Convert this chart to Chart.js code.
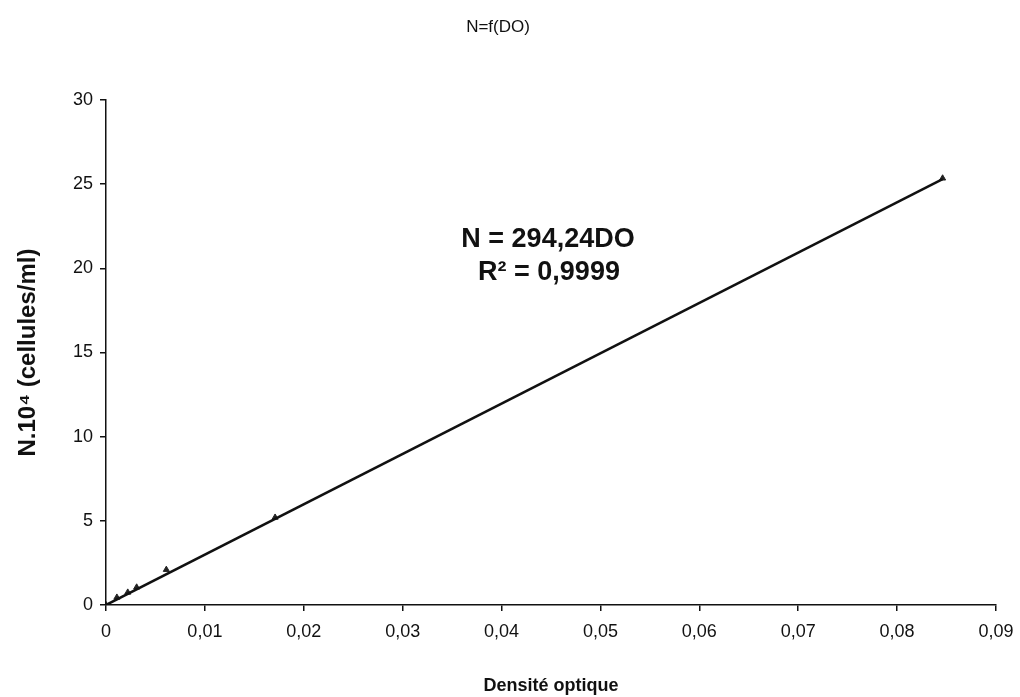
<!DOCTYPE html>
<html>
<head>
<meta charset="utf-8">
<script src="https://cdn.jsdelivr.net/npm/chart.js@4/dist/chart.umd.min.js"></script>
<style>
html,body{margin:0;padding:0;background:#fff;}
#wrap{width:1020px;height:697px;position:relative;}
</style>
</head>
<body>
<div id="wrap"><canvas id="c" width="1020" height="697"></canvas></div>
<script>
// Data
const densite = [0, 0.0011, 0.0022, 0.0031, 0.0061, 0.0171, 0.0846];
const cellules = [0, 0.45, 0.75, 1.05, 2.1, 5.2, 25.35];
// Trend line endpoints as drawn
const trendX = [0, 0.0846];
const trendY = [0, 25.3];
const xTicks = [0, 0.01, 0.02, 0.03, 0.04, 0.05, 0.06, 0.07, 0.08, 0.09];
const yTicks = [0, 5, 10, 15, 20, 25, 30];
const titleText = 'N=f(DO)';
const eqText = 'N = 294,24DO';
const r2Text = 'R² = 0,9999';

const FONT = '"Liberation Sans", Arial, sans-serif';

const textPlugin = {
  id: 'texts',
  afterDraw(chart) {
    const ctx = chart.ctx;
    ctx.save();
    ctx.fillStyle = '#111';
    ctx.textAlign = 'center';
    ctx.textBaseline = 'middle';
    ctx.font = '17px ' + FONT;
    ctx.fillText(titleText, 498, 27);
    ctx.font = 'bold 27px ' + FONT;
    ctx.fillText(eqText, 548, 240);
    ctx.fillText(r2Text, 549, 273);
    ctx.restore();
  }
};

new Chart(document.getElementById('c'), {
  type: 'scatter',
  data: {
    datasets: [
      {
        label: 'Tendance',
        type: 'line',
        data: trendX.map((x, i) => ({x: x, y: trendY[i]})),
        borderColor: '#111',
        borderWidth: 2.5,
        pointRadius: 0,
        fill: false
      },
      {
        label: 'N',
        data: densite.map((x, i) => ({x: x, y: cellules[i]})),
        pointStyle: 'triangle',
        pointRadius: 3.5,
        backgroundColor: '#222',
        borderColor: '#222',
        borderWidth: 1
      }
    ]
  },
  options: {
    responsive: false,
    animation: false,
    layout: {padding: {top: 100, right: 24, left: 0, bottom: 0}},
    plugins: {legend: {display: false}, tooltip: {enabled: false}, title: {display: false}},
    scales: {
      x: {
        type: 'linear',
        min: 0, max: 0.09,
        afterBuildTicks(s) { s.ticks = xTicks.map(v => ({value: v})); },
        afterFit(s) { s.height = 92; s.paddingRight = 0; s.paddingLeft = 0; },
        ticks: {
          color: '#111',
          font: {family: FONT, size: 18},
          padding: 10,
          maxRotation: 0,
          callback: v => String(Math.round(v * 100) / 100).replace('.', ',')
        },
        grid: {drawOnChartArea: false, drawTicks: true, tickLength: 6, color: '#111', lineWidth: 1.5},
        border: {color: '#111', width: 1.5},
        title: {display: true, text: 'Densité optique', color: '#111', font: {family: FONT, size: 18, weight: 'bold'}, padding: {top: 4, bottom: 0}}
      },
      y: {
        type: 'linear',
        min: 0, max: 30,
        afterBuildTicks(s) { s.ticks = yTicks.map(v => ({value: v})); },
        afterFit(s) { s.width = 106; },
        ticks: {
          color: '#111',
          font: {family: FONT, size: 18},
          padding: 7
        },
        grid: {drawOnChartArea: false, drawTicks: true, tickLength: 6, color: '#111', lineWidth: 1.5},
        border: {color: '#111', width: 1.5},
        title: {display: true, text: 'N.10⁴ (cellules/ml)', color: '#111', font: {family: FONT, size: 24, weight: 'bold'}, padding: {top: 14, bottom: 4}}
      }
    }
  },
  plugins: [textPlugin]
});
</script>
</body>
</html>
